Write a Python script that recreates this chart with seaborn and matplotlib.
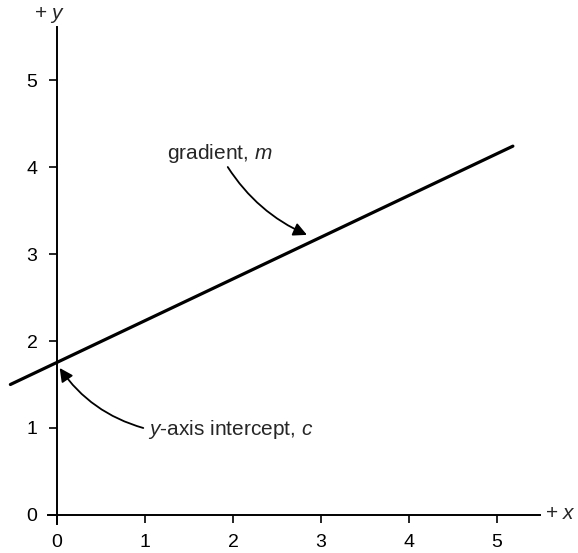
import numpy as np
import pandas as pd
import matplotlib
matplotlib.use('Agg')
import matplotlib.pyplot as plt
import seaborn as sns

# straight line y = m x + c, drawn between its two end points
line_x = [-0.53, 5.18]
line_y = [1.50, 4.24]
x_ticks = [0, 1, 2, 3, 4, 5]
y_ticks = [0, 1, 2, 3, 4, 5]

sns.set_style('white')
plt.rcParams['font.family'] = ['Liberation Sans', 'DejaVu Sans']
plt.rcParams['mathtext.fontset'] = 'custom'
plt.rcParams['mathtext.rm'] = 'Liberation Sans'
plt.rcParams['mathtext.it'] = 'Liberation Sans:italic'

fig = plt.figure(figsize=(5.78, 5.53), dpi=100)
ax = fig.add_axes([0, 0, 1, 1])

df = pd.DataFrame({'x': line_x, 'y': line_y})
sns.lineplot(data=df, x='x', y='y', color='black', linewidth=2.3, ax=ax)

ax.set_xlim(-0.648, 5.92)
ax.set_ylim(-0.437, 5.92)

# axes through the origin
for side in ['top', 'right']:
    ax.spines[side].set_visible(False)
ax.spines['left'].set_position(('data', 0))
ax.spines['bottom'].set_position(('data', 0))
ax.spines['left'].set_bounds(-0.1, 5.61)
ax.spines['bottom'].set_bounds(-0.1, 5.49)
for side in ['left', 'bottom']:
    ax.spines[side].set_color('black')
    ax.spines[side].set_linewidth(1.4)

ax.set_xticks(x_ticks)
ax.set_yticks(y_ticks)
ax.tick_params(direction='out', length=6, width=1.2, color='black',
               labelsize=14, pad=8, labelcolor='black')
ax.tick_params(axis='x', bottom=True)
ax.tick_params(axis='y', left=True)
ax.set_xlabel('')
ax.set_ylabel('')

ax.text(5.55, 0.02, '+ $x$', fontsize=15, va='center', ha='left')
ax.text(-0.08, 5.75, '+ $y$', fontsize=15, va='center', ha='center')

# annotations
ax.annotate('', xy=(2.84, 3.22), xytext=(1.94, 4.0),
            arrowprops=dict(arrowstyle='-|>', color='black', lw=1.3,
                            mutation_scale=20, shrinkA=0, shrinkB=0,
                            connectionstyle='arc3,rad=0.15'))
ax.text(1.25, 4.16, 'gradient, $m$', fontsize=15, va='center', ha='left')

ax.annotate('', xy=(0.03, 1.69), xytext=(0.98, 1.0),
            arrowprops=dict(arrowstyle='-|>', color='black', lw=1.3,
                            mutation_scale=20, shrinkA=0, shrinkB=0,
                            connectionstyle='arc3,rad=-0.18'))
ax.text(1.03, 0.98, '$y$-axis intercept, $c$', fontsize=15, va='center', ha='left')

fig.savefig('out.png', dpi=100)
